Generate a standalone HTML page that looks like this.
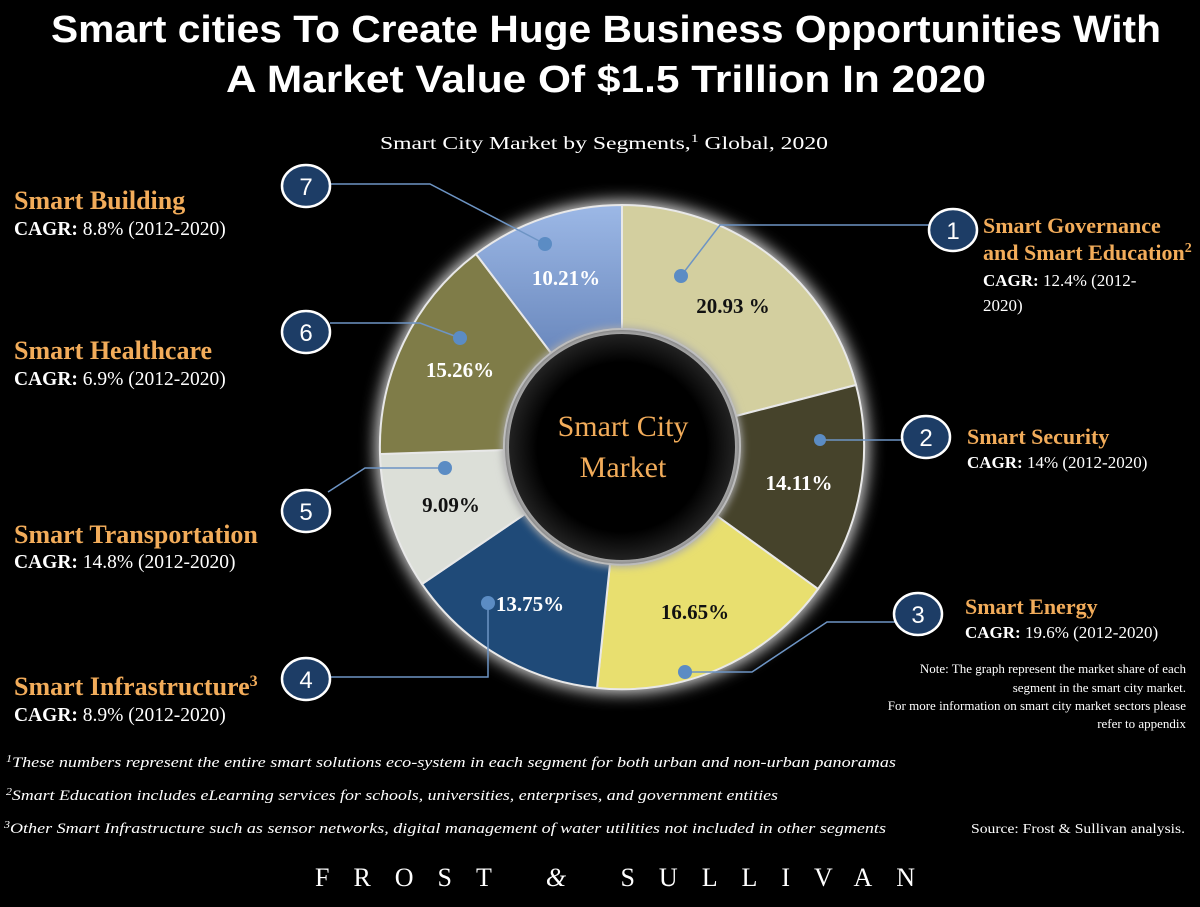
<!DOCTYPE html>
<html><head><meta charset="utf-8"><style>
html,body{margin:0;padding:0;background:#000;}
svg{display:block;}
.t{font-family:"Liberation Sans",sans-serif;font-weight:bold;fill:#fff;}
.s{font-family:"Liberation Serif",serif;fill:#fff;}
.o{font-family:"Liberation Serif",serif;font-weight:bold;fill:#f2ac5a;font-size:22px;}
.ol{font-family:"Liberation Serif",serif;font-weight:bold;fill:#f2ac5a;font-size:26px;}
.c{font-family:"Liberation Serif",serif;fill:#fff;font-size:17px;}
.cl{font-family:"Liberation Serif",serif;fill:#fff;font-size:19.5px;}
.n{font-family:"Liberation Sans",sans-serif;fill:#fff;font-size:24px;text-anchor:middle;}
.p{font-family:"Liberation Serif",serif;font-weight:bold;font-size:21px;text-anchor:middle;}
.i{font-family:"Liberation Serif",serif;font-style:italic;fill:#fff;font-size:15px;}
.ctr{font-family:"Liberation Serif",serif;fill:#f2ac5a;font-size:30px;text-anchor:middle;}
</style></head><body>
<svg width="1200" height="907" viewBox="0 0 1200 907" xmlns="http://www.w3.org/2000/svg">
<defs>
<filter id="b" x="-30%" y="-30%" width="160%" height="160%"><feGaussianBlur stdDeviation="8"/></filter>
<filter id="b2" x="-30%" y="-30%" width="160%" height="160%"><feGaussianBlur stdDeviation="4"/></filter>
<linearGradient id="lb" x1="0" y1="0" x2="0" y2="1"><stop offset="0" stop-color="#9cb8e6"/><stop offset="1" stop-color="#6a88bd"/></linearGradient>
<radialGradient id="hole"><stop offset="0.75" stop-color="#000"/><stop offset="1" stop-color="#222"/></radialGradient>
</defs>
<rect width="1200" height="907" fill="#000"/>
<text class="t" x="606" y="42" font-size="38" text-anchor="middle" textLength="1110" lengthAdjust="spacingAndGlyphs">Smart cities To Create Huge Business Opportunities With</text>
<text class="t" x="606" y="92" font-size="38" text-anchor="middle" textLength="760" lengthAdjust="spacingAndGlyphs">A Market Value Of $1.5 Trillion In 2020</text>
<text class="s" x="604" y="149" font-size="18" text-anchor="middle" textLength="448" lengthAdjust="spacingAndGlyphs">Smart City Market by Segments,<tspan font-size="12" dy="-7">1</tspan><tspan dy="7"> Global, 2020</tspan></text>

<circle cx="622" cy="447" r="246" fill="#ddd" filter="url(#b)"/>
<circle cx="622" cy="447" r="242" fill="#000"/>
<g stroke="#e8e8e8" stroke-width="2">
<path d="M622,205 A242,242 0 0 1 856,385 L736,416 A118,118 0 0 0 622,329 Z" fill="#d3cf9f"/>
<path d="M856,385 A242,242 0 0 1 818,589 L717,516 A118,118 0 0 0 736,416 Z" fill="#46432b"/>
<path d="M818,589 A242,242 0 0 1 597,688 L610,564 A118,118 0 0 0 717,516 Z" fill="#e8df6f"/>
<path d="M597,688 A242,242 0 0 1 422,584 L525,514 A118,118 0 0 0 610,564 Z" fill="#1f4a78"/>
<path d="M422,584 A242,242 0 0 1 380,454 L504,450 A118,118 0 0 0 525,514 Z" fill="#dcdfd8"/>
<path d="M380,454 A242,242 0 0 1 476,254 L551,353 A118,118 0 0 0 504,450 Z" fill="#7f7c48"/>
<path d="M476,254 A242,242 0 0 1 622,205 L622,329 A118,118 0 0 0 551,353 Z" fill="url(#lb)"/>
</g>
<circle cx="622" cy="447" r="120" fill="#aaa" filter="url(#b2)"/>
<circle cx="622" cy="447" r="113" fill="url(#hole)"/>
<text class="ctr" x="623" y="436">Smart City</text>
<text class="ctr" x="623" y="477">Market</text>

<text class="p" x="566" y="285" fill="#fff" font-weight="normal">10.21%</text>
<text class="p" x="733" y="313" fill="#111">20.93 %</text>
<text class="p" x="799" y="490" fill="#fff" font-weight="normal">14.11%</text>
<text class="p" x="695" y="619" fill="#111">16.65%</text>
<text class="p" x="530" y="611" fill="#fff" font-weight="normal">13.75%</text>
<text class="p" x="451" y="512" fill="#111">9.09%</text>
<text class="p" x="460" y="377" fill="#fff" font-weight="normal">15.26%</text>

<g stroke="#6d94c4" stroke-width="1.5" fill="none">
<polyline points="330,184 430,184 545,244"/>
<polyline points="330,323 420,323 460,338"/>
<polyline points="328,492 365,468 445,468"/>
<polyline points="330,677 488,677 488,603"/>
<polyline points="930,225 720,225 681,276"/>
<polyline points="903,440 820,440"/>
<polyline points="895,622 827,622 752,672 685,672"/>
</g>
<g fill="#5b8cc4">
<circle cx="545" cy="244" r="7"/><circle cx="460" cy="338" r="7"/><circle cx="445" cy="468" r="7"/>
<circle cx="488" cy="603" r="7"/><circle cx="681" cy="276" r="7"/><circle cx="820" cy="440" r="6"/><circle cx="685" cy="672" r="7"/>
</g>
<g fill="#1d3d66" stroke="#fff" stroke-width="2.5">
<ellipse cx="306" cy="186" rx="24" ry="21"/><ellipse cx="306" cy="332" rx="24" ry="21"/>
<ellipse cx="306" cy="511" rx="24" ry="21"/><ellipse cx="306" cy="679" rx="24" ry="21"/>
<ellipse cx="953" cy="230" rx="24" ry="21"/><ellipse cx="926" cy="437" rx="24" ry="21"/><ellipse cx="918" cy="614" rx="24" ry="21"/>
</g>
<text class="n" x="306" y="195">7</text><text class="n" x="306" y="341">6</text>
<text class="n" x="306" y="520">5</text><text class="n" x="306" y="688">4</text>
<text class="n" x="953" y="239">1</text><text class="n" x="926" y="446">2</text><text class="n" x="918" y="623">3</text>

<text class="ol" x="14" y="209">Smart Building</text>
<text class="cl" x="14" y="235"><tspan font-weight="bold">CAGR:</tspan> 8.8% (2012-2020)</text>
<text class="ol" x="14" y="359">Smart Healthcare</text>
<text class="cl" x="14" y="385"><tspan font-weight="bold">CAGR:</tspan> 6.9% (2012-2020)</text>
<text class="ol" x="14" y="543">Smart Transportation</text>
<text class="cl" x="14" y="568"><tspan font-weight="bold">CAGR:</tspan> 14.8% (2012-2020)</text>
<text class="ol" x="14" y="695">Smart Infrastructure<tspan font-size="16" dy="-9">3</tspan></text>
<text class="cl" x="14" y="721"><tspan font-weight="bold">CAGR:</tspan> 8.9% (2012-2020)</text>

<text class="o" x="983" y="233">Smart Governance</text>
<text class="o" x="983" y="260">and Smart Education<tspan font-size="14" dy="-8">2</tspan></text>
<text class="c" x="983" y="286"><tspan font-weight="bold">CAGR:</tspan> 12.4% (2012-</text>
<text class="c" x="983" y="311">2020)</text>
<text class="o" x="967" y="444">Smart Security</text>
<text class="c" x="967" y="468"><tspan font-weight="bold">CAGR:</tspan> 14% (2012-2020)</text>
<text class="o" x="965" y="614">Smart Energy</text>
<text class="c" x="965" y="638"><tspan font-weight="bold">CAGR:</tspan> 19.6% (2012-2020)</text>

<g class="s" font-size="13" text-anchor="end">
<text x="1186" y="673">Note: The graph represent the market share of each</text>
<text x="1186" y="692">segment in the smart city market.</text>
<text x="1186" y="710">For more information on smart city market sectors please</text>
<text x="1186" y="728">refer to appendix</text>
</g>
<text class="i" x="6" y="767" textLength="890" lengthAdjust="spacingAndGlyphs"><tspan font-size="10" dy="-5">1</tspan><tspan dy="5">These numbers represent the entire smart solutions eco-system in each segment for both urban and non-urban panoramas</tspan></text>
<text class="i" x="6" y="800" textLength="772" lengthAdjust="spacingAndGlyphs"><tspan font-size="10" dy="-5">2</tspan><tspan dy="5">Smart Education includes eLearning services for schools, universities, enterprises, and government entities</tspan></text>
<text class="i" x="4" y="833" textLength="882" lengthAdjust="spacingAndGlyphs"><tspan font-size="10" dy="-5">3</tspan><tspan dy="5">Other Smart Infrastructure such as sensor networks,  digital management of water utilities  not included in other segments</tspan></text>
<text class="s" x="971" y="833" font-size="14" textLength="214" lengthAdjust="spacingAndGlyphs">Source: Frost &amp; Sullivan analysis.</text>
<text class="s" x="615" y="886" font-size="26" text-anchor="middle" textLength="600" lengthAdjust="spacing">FROST <tspan font-style="italic">&amp;</tspan> SULLIVAN</text>
</svg>
</body></html>
